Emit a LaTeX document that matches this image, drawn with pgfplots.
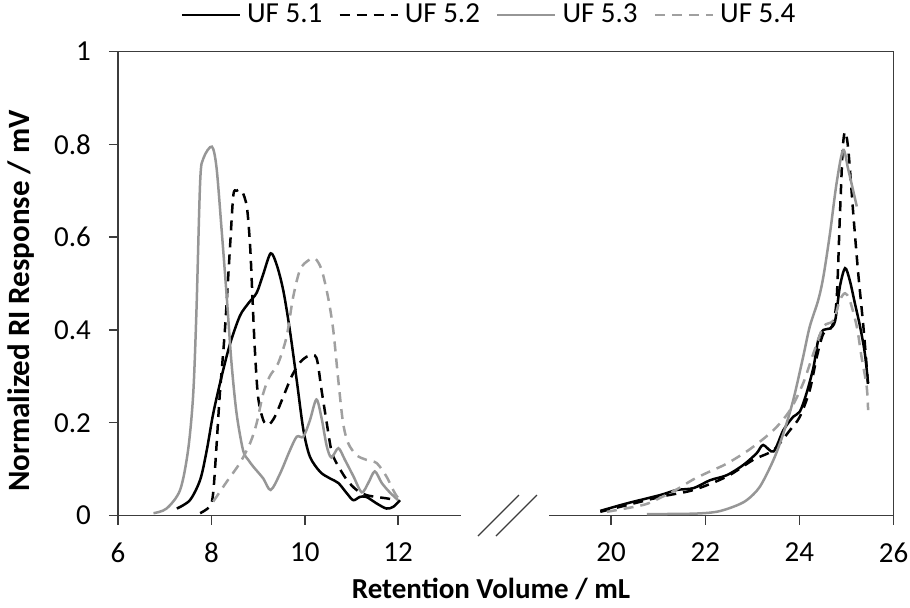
\documentclass[border=0pt]{standalone}
\usepackage{fontspec}
\setmainfont{Carlito}
\usepackage{pgfplots}
\pgfplotsset{compat=1.18}
\definecolor{gA}{RGB}{150,150,150}
\definecolor{gB}{RGB}{160,160,160}
\definecolor{axc}{RGB}{60,60,60}

\begin{document}
\fontsize{14.5}{17}\selectfont
\begin{tikzpicture}
\pgfplotsset{
  every axis/.append style={
    scale only axis, height=232pt, ymin=0, ymax=1,
    tick align=outside, major tick length=4.5pt,
    tick style={axc, line width=0.75pt},
    axis line style={axc, line width=0.75pt, -},
    /pgf/number format/assume math mode=true,
    ticklabel style={font=\fontsize{14.5}{17}\selectfont},
    label style={font=\fontsize{14.5}{17}\selectfont\bfseries},
  },
  s1/.style={black, line width=1.25pt, smooth, tension=0.5},
  s2/.style={black, line width=1.25pt, dash pattern=on 5pt off 3.5pt, smooth, tension=0.5},
  s3/.style={gA, line width=1.25pt, smooth, tension=0.5},
  s4/.style={gB, line width=1.25pt, dash pattern=on 5pt off 3.5pt, smooth, tension=0.5},
}
\begin{axis}[name=L, at={(0,0)}, anchor=south west, width=171.35pt,
  xmin=6, xmax=13.34,
  axis x line*=bottom, axis y line*=left,
  xtick={6,8,10,12}, ytick={0,0.2,0.4,0.6,0.8,1},
  yticklabel shift=4pt, xticklabel shift=4pt,
  xlabel={Retention Volume / mL},
  ylabel={Normalized RI Response / mV},
  xlabel style={at={(axis description cs:1.0885,-0.1584)}, anchor=center},
  ylabel style={at={(axis description cs:-0.283,0.462)}, anchor=center,
    font=\fontsize{15.5}{18}\selectfont\bfseries},
  legend columns=4,
  legend style={at={(1.0826,1.0787)}, anchor=center, draw=none, fill=none,
    font=\fontsize{14.5}{17}\selectfont,
    nodes={inner sep=1pt},
    /tikz/every odd column/.append style={column sep=2pt},
    /tikz/every even column/.append style={column sep=7pt}},
  legend image code/.code={\draw[#1] (0pt,0pt) -- (29pt,0pt);},
]
\addplot[s1] coordinates {
(7.26,0.015)(7.54,0.033)(7.76,0.077)(7.90,0.14)(8.04,0.22)(8.22,0.30)(8.40,0.37)
(8.61,0.43)(8.79,0.457)(8.97,0.48)(9.11,0.52)(9.27,0.565)(9.40,0.54)(9.54,0.485)
(9.68,0.40)(9.83,0.29)(9.97,0.185)(10.11,0.127)(10.33,0.094)(10.54,0.08)(10.72,0.07)
(10.90,0.048)(11.04,0.033)(11.18,0.04)(11.32,0.04)(11.54,0.026)(11.75,0.015)(11.90,0.019)(12.04,0.033)
};
\addlegendentry{UF 5.1}
\addplot[s2] coordinates {
(7.76,0.005)(7.97,0.02)(8.04,0.05)(8.11,0.15)(8.18,0.26)(8.29,0.40)(8.40,0.58)
(8.47,0.69)(8.54,0.70)(8.65,0.70)(8.76,0.665)(8.83,0.58)(8.88,0.47)(8.93,0.36)
(9.00,0.256)(9.11,0.206)(9.22,0.195)(9.36,0.213)(9.54,0.256)(9.72,0.30)(9.90,0.33)
(10.08,0.344)(10.25,0.34)(10.36,0.27)(10.47,0.20)(10.57,0.14)(10.68,0.113)(10.90,0.077)
(11.11,0.055)(11.32,0.044)(11.54,0.04)(11.75,0.037)(11.97,0.033)
};
\addlegendentry{UF 5.2}
\addplot[s3] coordinates {
(6.76,0.005)(7.04,0.015)(7.33,0.055)(7.50,0.14)(7.61,0.26)(7.68,0.44)(7.76,0.72)
(7.83,0.77)(8.01,0.795)(8.11,0.75)(8.22,0.615)(8.33,0.47)(8.43,0.33)(8.54,0.22)
(8.68,0.14)(8.79,0.12)(8.90,0.105)(9.11,0.08)(9.27,0.055)(9.47,0.09)(9.68,0.14)
(9.83,0.17)(9.97,0.17)(10.11,0.205)(10.25,0.25)(10.36,0.21)(10.47,0.15)(10.57,0.125)
(10.72,0.145)(10.86,0.12)(11.04,0.085)(11.22,0.05)(11.36,0.07)(11.50,0.095)(11.65,0.07)
(11.82,0.05)(12.00,0.033)
};
\addlegendentry{UF 5.3}
\addplot[s4] coordinates {
(8.04,0.03)(8.33,0.073)(8.61,0.113)(8.83,0.156)(8.97,0.199)(9.11,0.263)(9.25,0.30)
(9.43,0.328)(9.61,0.385)(9.75,0.47)(9.90,0.53)(10.08,0.55)(10.22,0.554)(10.36,0.53)
(10.50,0.47)(10.61,0.40)(10.72,0.29)(10.82,0.20)(10.93,0.156)(11.11,0.13)(11.32,0.12)
(11.54,0.113)(11.75,0.084)(11.93,0.048)(12.04,0.033)
};
\addlegendentry{UF 5.4}
\end{axis}
\begin{axis}[name=R, at={(215.5pt,0)}, anchor=south west, width=172.25pt,
  xmin=18.68, xmax=26,
  axis x line*=bottom, axis y line=none,
  xtick={20,22,24,26}, ytick=\empty, xticklabel shift=4pt,
]
\addplot[s1] coordinates {
(19.77,0.01)(20.33,0.026)(21.04,0.044)(21.39,0.055)(21.75,0.059)(22.10,0.076)(22.46,0.087)
(22.81,0.109)(23.09,0.134)(23.23,0.152)(23.45,0.138)(23.66,0.184)(23.87,0.213)(24.01,0.224)
(24.15,0.263)(24.30,0.32)(24.40,0.378)(24.51,0.40)(24.65,0.403)(24.76,0.42)(24.86,0.493)
(24.97,0.533)(25.07,0.507)(25.18,0.457)(25.29,0.407)(25.39,0.35)(25.46,0.285)
};
\addplot[s2] coordinates {
(19.77,0.008)(21.04,0.04)(21.75,0.055)(22.46,0.084)(23.02,0.12)(23.45,0.141)(23.80,0.184)
(24.01,0.213)(24.22,0.27)(24.37,0.342)(24.51,0.392)(24.69,0.407)(24.79,0.464)(24.86,0.644)
(24.92,0.788)(24.97,0.827)(25.04,0.788)(25.15,0.644)(25.25,0.522)(25.36,0.407)(25.43,0.32)(25.46,0.278)
};
\addplot[s3] coordinates {
(20.76,0.003)(21.75,0.004)(22.24,0.008)(22.60,0.019)(22.88,0.033)(23.16,0.062)(23.45,0.12)
(23.66,0.177)(23.87,0.249)(24.08,0.342)(24.22,0.407)(24.40,0.464)(24.51,0.515)(24.65,0.608)
(24.79,0.716)(24.93,0.788)(25.04,0.745)(25.22,0.666)
};
\addplot[s4] coordinates {
(19.91,0.008)(20.69,0.023)(21.04,0.038)(21.39,0.056)(21.75,0.078)(22.10,0.095)(22.46,0.112)
(22.95,0.143)(23.45,0.184)(23.80,0.227)(24.08,0.285)(24.30,0.35)(24.51,0.407)(24.72,0.42)
(24.86,0.464)(24.97,0.479)(25.07,0.464)(25.22,0.407)(25.32,0.342)(25.43,0.278)(25.46,0.227)
};
\end{axis}
\draw[axc, line width=0.75pt] (L.north west) -- (R.north east) -- (R.south east);
\draw[axc, line width=0.6pt] (180pt,-10.25pt) -- (200.5pt,10.25pt);
\draw[axc, line width=0.6pt] (189pt,-10.25pt) -- (209.5pt,10.25pt);
\pgfresetboundingbox
\path (-59pt,-45.75pt) rectangle (396pt,257.75pt);
\end{tikzpicture}
\end{document}
